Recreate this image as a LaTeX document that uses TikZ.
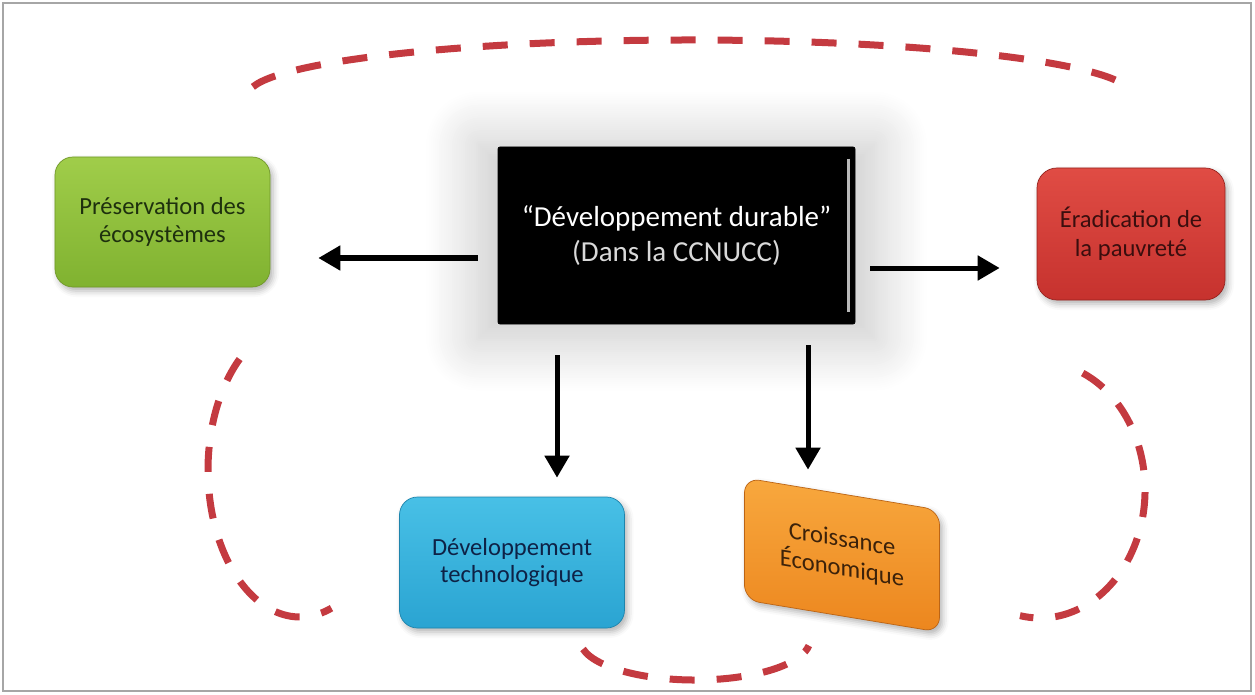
\documentclass[tikz,border=0pt]{standalone}
\usepackage{fontspec}
\setmainfont{Carlito}
\usetikzlibrary{positioning, arrows.meta, shadows.blur}

\definecolor{loopred}{RGB}{196,58,64}
\definecolor{ecotop}{RGB}{160,205,74}
\definecolor{ecobot}{RGB}{128,178,48}
\definecolor{povtop}{RGB}{224,76,68}
\definecolor{povbot}{RGB}{198,50,46}
\definecolor{techtop}{RGB}{72,192,230}
\definecolor{techbot}{RGB}{42,164,210}
\definecolor{growtop}{RGB}{248,168,62}
\definecolor{growbot}{RGB}{236,134,30}

\begin{document}
\begin{tikzpicture}[x=0.2mm, y=-0.2mm,
        core/.style={draw=black, fill=black, rectangle, rounded corners=0.4mm, minimum width=71.4mm, minimum height=35.4mm, align=center, text=white, font=\fontsize{16.5}{20}\selectfont, blur shadow={shadow xshift=0mm, shadow yshift=-1mm, shadow scale=1.12, shadow blur radius=9mm, shadow blur steps=24, shadow opacity=22}},
        ecosys/.style={draw={rgb,255:red,112;green,152;blue,40}, top color=ecotop, bottom color=ecobot, rectangle, rounded corners=3.6mm, minimum width=43mm, minimum height=26mm, align=center, text={rgb,255:red,30;green,48;blue,14}, font=\fontsize{14}{15.5}\selectfont, blur shadow={shadow xshift=0.6mm, shadow yshift=-0.8mm, shadow blur radius=1.2mm, shadow opacity=30}},
        poverty/.style={draw={rgb,255:red,150;green,35;blue,30}, top color=povtop, bottom color=povbot, rectangle, rounded corners=4mm, minimum width=37.6mm, minimum height=26.4mm, align=center, text={rgb,255:red,58;green,14;blue,14}, font=\fontsize{14}{16.4}\selectfont, blur shadow={shadow xshift=0.6mm, shadow yshift=-0.8mm, shadow blur radius=1.2mm, shadow opacity=30}},
        techno/.style={draw={rgb,255:red,30;green,132;blue,172}, top color=techtop, bottom color=techbot, rectangle, rounded corners=3.6mm, minimum width=45mm, minimum height=26.2mm, align=center, text={rgb,255:red,14;green,34;blue,70}, font=\fontsize{14}{15.5}\selectfont, blur shadow={shadow xshift=0.6mm, shadow yshift=-0.8mm, shadow blur radius=1.2mm, shadow opacity=30}},
        growth/.style={draw={rgb,255:red,188;green,100;blue,20}, top color=growtop, bottom color=growbot, rectangle, rounded corners=3mm, minimum width=39mm, minimum height=24.4mm, align=center, text={rgb,255:red,60;green,34;blue,10}, font=\fontsize{14}{16.5}\selectfont, blur shadow={shadow xshift=0.6mm, shadow yshift=-0.8mm, shadow blur radius=1.2mm, shadow opacity=30}},
        arrow/.style={-{Triangle[length=4.4mm, width=4.8mm]}, line width=1mm},
        loopline/.style={draw=loopred, line width=1.4mm, dash pattern=on 5mm off 4.4mm}
    ]
    \useasboundingbox (0,0) rectangle (1255,694);
    \draw[gray!70, line width=0.4mm] (3,3) rectangle (1251,691);

    % Dashed loops
    \draw[loopline] (690,95) ++(188.5:442 and 55) arc[start angle=188.5, end angle=353, x radius=442, y radius=55];
    \draw[loopline] (300,470) ++(229:92 and 147) arc[start angle=229, end angle=70, x radius=92, y radius=147];
    \draw[loopline] (1040,490) ++(-66:105 and 128) arc[start angle=-66, end angle=101, x radius=105, y radius=128];
    \draw[loopline] (695,640) ++(167:115 and 40) arc[start angle=167, end angle=8, x radius=115, y radius=40];

    % Nodes
    \node[core] (core) at (676.5,235.5) {“Développement durable”\\{\color{white!85!black}(Dans la CCNUCC)}};
    \draw[gray!55, line width=0.5mm] ([xshift=-1.4mm, yshift=-2.4mm]core.north east) -- ([xshift=-1.4mm, yshift=2.4mm]core.south east);
    \node[ecosys] (ecosys) at (162.5,222) {Préservation des\\écosystèmes};
    \node[poverty] (poverty) at (1131,234) {Éradication de\\la pauvreté};
    \node[techno] (techno) at (512,562.5) {Développement\\technologique};
    \begin{scope}[shift={(842,555)}, yslant=-0.165]
        \node[growth, transform shape] (growth) at (0,0) {Croissance\\Économique};
    \end{scope}

    % Arrows out of the core box
    \draw[arrow, shorten <=4mm, shorten >=9.6mm] ([yshift=-4.5mm]core.west) -- ([yshift=-4.5mm]core.west -| ecosys.east);
    \draw[arrow, shorten <=3mm, shorten >=7.4mm] ([yshift=-6.5mm]core.east) -- ([yshift=-6.5mm]core.east -| poverty.west);
    \draw[arrow, shorten <=6.2mm, shorten >=3.8mm] ([xshift=-23.9mm]core.south) -- ([xshift=-23.9mm]core.south |- techno.north);
    \draw[arrow, shorten <=4.2mm, shorten >=4.8mm] ([xshift=26.3mm]core.south) -- ([xshift=26.3mm]core.south |- growth.north);
\end{tikzpicture}
\end{document}
